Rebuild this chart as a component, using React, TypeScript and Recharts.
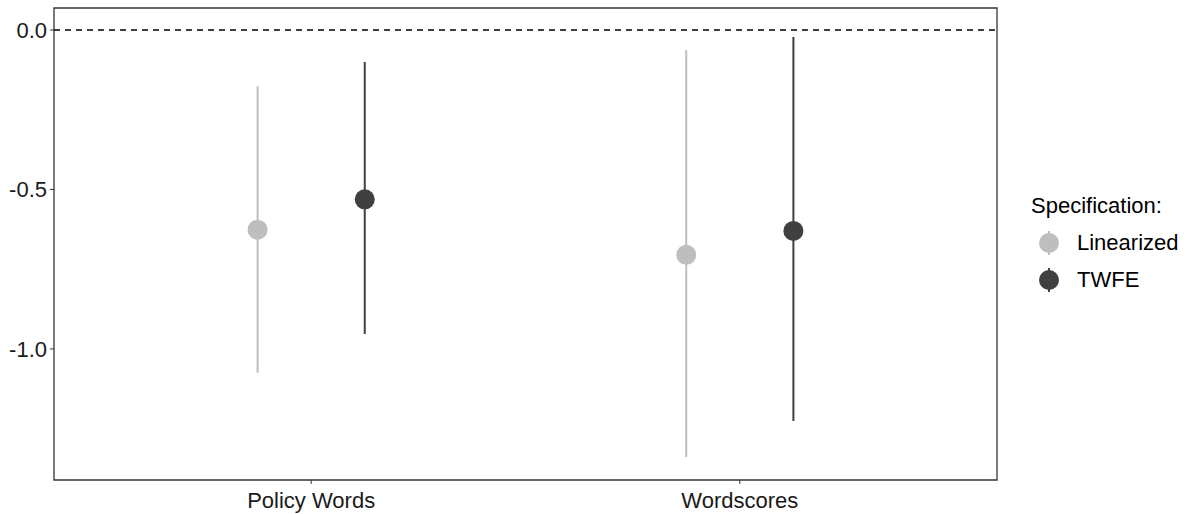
import React from 'react';
import {
  ComposedChart,
  Scatter,
  ErrorBar,
  XAxis,
  YAxis,
  ReferenceLine,
  ReferenceArea,
} from 'recharts';

const categories = ['Policy Words', 'Wordscores'];

const linearizedEst = [-0.626, -0.705];
const linearizedLow = [-1.075, -1.339];
const linearizedHigh = [-0.176, -0.063];

const twfeEst = [-0.531, -0.63];
const twfeLow = [-0.953, -1.226];
const twfeHigh = [-0.1, -0.022];

const yTicks = [-1, -0.5, 0];

const LIGHT = '#bebebe';
const DARK = '#404040';
const FONT = '"Liberation Sans", Arial, sans-serif';
const DODGE = 0.125;

const buildSeries = (est: number[], low: number[], high: number[], offset: number) =>
  est.map((v, i) => ({
    x: i + 1 + offset,
    y: v,
    err: [v - low[i], high[i] - v],
  }));

const linearizedData = buildSeries(linearizedEst, linearizedLow, linearizedHigh, -DODGE);
const twfeData = buildSeries(twfeEst, twfeLow, twfeHigh, DODGE);

const Dot = (props: any) => {
  const { cx, cy, fill } = props;
  if (cx == null || cy == null) return null;
  return <circle cx={cx} cy={cy} r={10} fill={fill} />;
};

const legendItems = [
  { name: 'Linearized', color: LIGHT },
  { name: 'TWFE', color: DARK },
];

const LegendBox = () => (
  <div
    style={{
      position: 'absolute',
      left: 1031,
      top: 193,
      fontFamily: FONT,
      fontSize: 22,
      color: '#000',
      lineHeight: '26px',
    }}
  >
    <div style={{ marginBottom: 5 }}>Specification:</div>
    {legendItems.map(item => (
      <div key={item.name} style={{ display: 'flex', alignItems: 'center', height: 37 }}>
        <svg width={36} height={36}>
          <line x1={18} y1={6} x2={18} y2={30} stroke={item.color} strokeWidth={2} />
          <circle cx={18} cy={18} r={10} fill={item.color} />
        </svg>
        <span style={{ marginLeft: 10 }}>{item.name}</span>
      </div>
    ))}
  </div>
);

export default function App() {
  return (
    <div style={{ position: 'absolute', left: 0, top: 0, width: 1185, height: 514, background: '#fff' }}>
      <ComposedChart
        width={1185}
        height={514}
        margin={{ top: 8, right: 188, bottom: 0, left: 0 }}
      >
        <XAxis
          type="number"
          dataKey="x"
          domain={[0.4, 2.6]}
          ticks={[1, 2]}
          tickFormatter={v => categories[v - 1] ?? ''}
          allowDataOverflow
          height={34}
          tickSize={4}
          tickMargin={8}
          axisLine={false}
          tickLine={{ stroke: '#333' }}
          tick={{ fontSize: 22, fill: '#1a1a1a', fontFamily: FONT }}
        />
        <YAxis
          type="number"
          domain={[-1.411, 0.069]}
          ticks={yTicks}
          tickFormatter={v => v.toFixed(1)}
          allowDataOverflow
          width={54}
          tickSize={4}
          tickMargin={3}
          axisLine={false}
          tickLine={{ stroke: '#333' }}
          tick={{ fontSize: 22, fill: '#1a1a1a', fontFamily: FONT }}
        />
        <ReferenceLine y={0} stroke="#000" strokeDasharray="6 5" strokeWidth={1.3} />
        <Scatter
          name="Linearized"
          data={linearizedData}
          dataKey="y"
          fill={LIGHT}
          shape={Dot}
          isAnimationActive={false}
        >
          <ErrorBar dataKey="err" direction="y" width={0} stroke={LIGHT} strokeWidth={2} />
        </Scatter>
        <Scatter
          name="TWFE"
          data={twfeData}
          dataKey="y"
          fill={DARK}
          shape={Dot}
          isAnimationActive={false}
        >
          <ErrorBar dataKey="err" direction="y" width={0} stroke={DARK} strokeWidth={2} />
        </Scatter>
        <ReferenceArea
          x1={0.4}
          x2={2.6}
          y1={-1.411}
          y2={0.069}
          fill="none"
          fillOpacity={0}
          stroke="#333"
          strokeWidth={1.3}
        />
      </ComposedChart>
      <LegendBox />
    </div>
  );
}
